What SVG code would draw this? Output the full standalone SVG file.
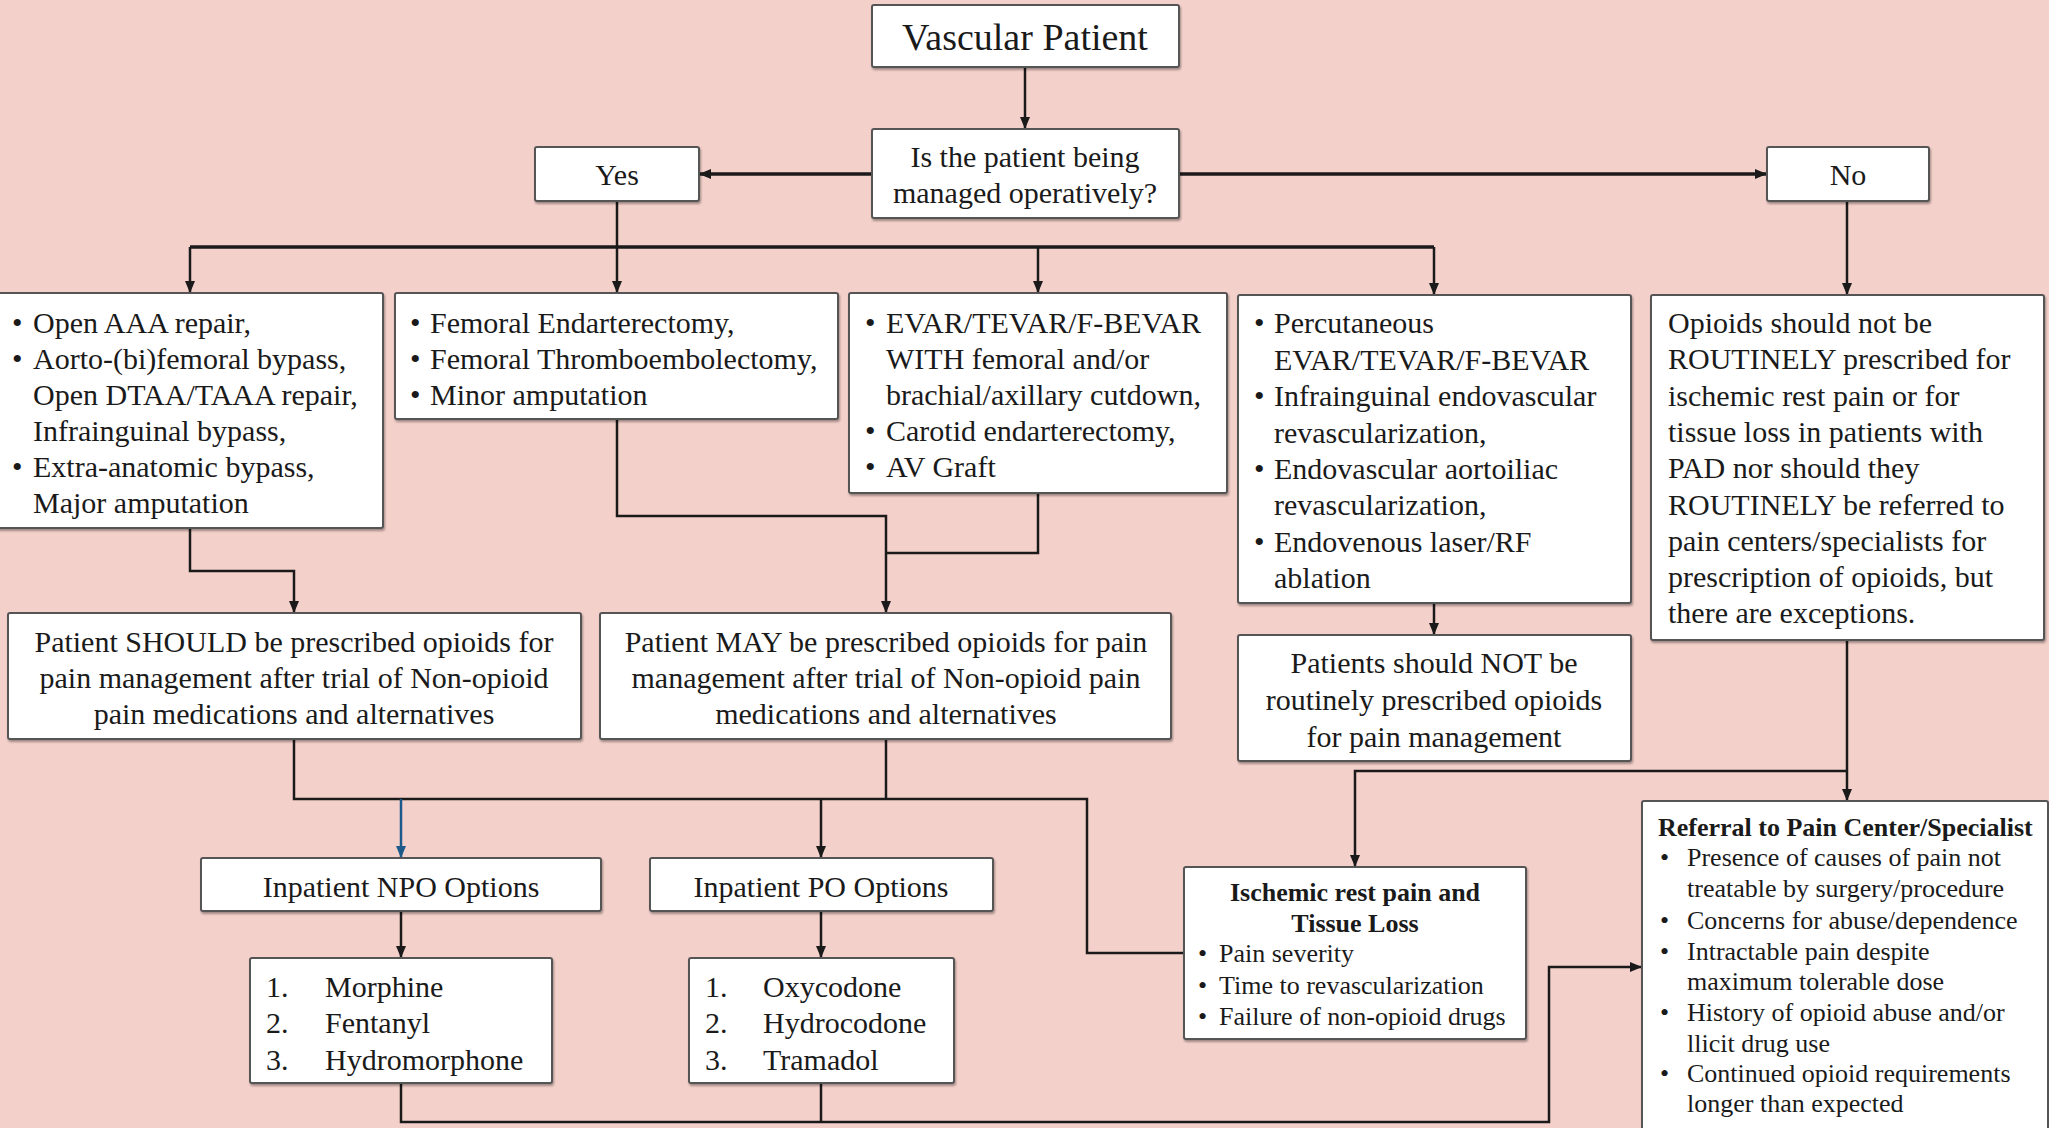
<svg xmlns="http://www.w3.org/2000/svg" width="2049" height="1128" viewBox="0 0 2049 1128">
  <defs>
    <marker id="arr" markerUnits="userSpaceOnUse" markerWidth="12" markerHeight="10" refX="12" refY="5" orient="auto">
      <path d="M0,0 L12,5 L0,10 Z" fill="#1a1a1a"/>
    </marker>
    <marker id="arrBlue" markerUnits="userSpaceOnUse" markerWidth="12" markerHeight="10" refX="12" refY="5" orient="auto">
      <path d="M0,0 L12,5 L0,10 Z" fill="#1d5a8c"/>
    </marker>
    <filter id="shadow" x="-5%" y="-5%" width="110%" height="115%">
      <feDropShadow dx="1" dy="2" stdDeviation="1" flood-color="#000" flood-opacity="0.35"/>
    </filter>
  </defs>
  <style>
    .box { fill: #ffffff; stroke: #555555; stroke-width: 2; filter: url(#shadow); }
    .t { font-family: "Liberation Serif", "Times New Roman", serif; font-size: 30px; fill: #1a1a1a; }
    .c { text-anchor: middle; }
    .s { font-size: 26px; }
    .b { font-weight: bold; }
    .big { font-size: 38px; }
    .ln { fill: none; stroke: #1a1a1a; stroke-width: 2.5; }
    .thick { stroke-width: 3.5; }
    .blue { stroke: #1d5a8c; }
  </style>

  <rect x="0" y="0" width="2049" height="1128" fill="#f4d0ca"/>

  <!-- connectors -->
  <g id="connectors">
    <path class="ln" d="M1025 67 V129" marker-end="url(#arr)"/>
    <path class="ln thick" d="M872 174 H699" marker-end="url(#arr)"/>
    <path class="ln thick" d="M1179 174 H1767" marker-end="url(#arr)"/>
    <path class="ln" d="M617 201 V293" marker-end="url(#arr)"/>
    <path class="ln thick" d="M190 247 H1434"/>
    <path class="ln" d="M190 247 V293" marker-end="url(#arr)"/>
    <path class="ln" d="M1038 247 V293" marker-end="url(#arr)"/>
    <path class="ln" d="M1434 247 V295" marker-end="url(#arr)"/>
    <path class="ln" d="M1847 201 V295" marker-end="url(#arr)"/>
    <path class="ln" d="M190 528 V571 H294 V613" marker-end="url(#arr)"/>
    <path class="ln" d="M617 419 V516 H886 V613" marker-end="url(#arr)"/>
    <path class="ln" d="M1038 493 V553 H886"/>
    <path class="ln" d="M1434 603 V635" marker-end="url(#arr)"/>
    <path class="ln" d="M294 739 V799 H1087 V953 H1184"/>
    <path class="ln" d="M886 739 V799"/>
    <path class="ln blue" d="M401 799 V858" marker-end="url(#arrBlue)"/>
    <path class="ln" d="M821 799 V858" marker-end="url(#arr)"/>
    <path class="ln" d="M401 911 V958" marker-end="url(#arr)"/>
    <path class="ln" d="M821 911 V958" marker-end="url(#arr)"/>
    <path class="ln" d="M401 1083 V1122 H1549 V967 H1642" marker-end="url(#arr)"/>
    <path class="ln" d="M821 1083 V1122"/>
    <path class="ln" d="M1847 640 V801" marker-end="url(#arr)"/>
    <path class="ln" d="M1847 771 H1355 V867" marker-end="url(#arr)"/>
  </g>

  <g id="vascular-patient">
    <rect class="box" x="872" y="5" width="307" height="62" rx="2"/>
    <text class="t big c" x="1025" y="50">Vascular Patient</text>
  </g>

  <g id="question">
    <rect class="box" x="872" y="129" width="307" height="89" rx="2"/>
    <text class="t c" x="1025" y="167">Is the patient being</text>
    <text class="t c" x="1025" y="203">managed operatively?</text>
  </g>

  <g id="yes">
    <rect class="box" x="535" y="147" width="164" height="54" rx="2"/>
    <text class="t c" x="617" y="185">Yes</text>
  </g>

  <g id="no">
    <rect class="box" x="1767" y="147" width="162" height="54" rx="2"/>
    <text class="t c" x="1848" y="185">No</text>
  </g>

  <g id="open-procedures">
    <rect class="box" x="-4" y="293" width="387" height="235" rx="2"/>
    <text class="t" x="12" y="333">•</text><text class="t" x="33" y="333">Open AAA repair,</text>
    <text class="t" x="12" y="369">•</text><text class="t" x="33" y="369">Aorto-(bi)femoral bypass,</text>
    <text class="t" x="33" y="405">Open DTAA/TAAA repair,</text>
    <text class="t" x="33" y="441">Infrainguinal bypass,</text>
    <text class="t" x="12" y="477">•</text><text class="t" x="33" y="477">Extra-anatomic bypass,</text>
    <text class="t" x="33" y="513">Major amputation</text>
  </g>

  <g id="femoral-procedures">
    <rect class="box" x="395" y="293" width="443" height="126" rx="2"/>
    <text class="t" x="410" y="333">•</text><text class="t" x="430" y="333">Femoral Endarterectomy,</text>
    <text class="t" x="410" y="369">•</text><text class="t" x="430" y="369">Femoral Thromboembolectomy,</text>
    <text class="t" x="410" y="405">•</text><text class="t" x="430" y="405">Minor amputation</text>
  </g>

  <g id="cutdown-procedures">
    <rect class="box" x="849" y="293" width="378" height="200" rx="2"/>
    <text class="t" x="865" y="333">•</text><text class="t" x="886" y="333">EVAR/TEVAR/F-BEVAR</text>
    <text class="t" x="886" y="369">WITH femoral and/or</text>
    <text class="t" x="886" y="405">brachial/axillary cutdown,</text>
    <text class="t" x="865" y="441">•</text><text class="t" x="886" y="441">Carotid endarterectomy,</text>
    <text class="t" x="865" y="477">•</text><text class="t" x="886" y="477">AV Graft</text>
  </g>

  <g id="endovascular-procedures">
    <rect class="box" x="1238" y="295" width="393" height="308" rx="2"/>
    <text class="t" x="1254" y="333">•</text><text class="t" x="1274" y="333">Percutaneous</text>
    <text class="t" x="1274" y="370">EVAR/TEVAR/F-BEVAR</text>
    <text class="t" x="1254" y="406">•</text><text class="t" x="1274" y="406">Infrainguinal endovascular</text>
    <text class="t" x="1274" y="443">revascularization,</text>
    <text class="t" x="1254" y="479">•</text><text class="t" x="1274" y="479">Endovascular aortoiliac</text>
    <text class="t" x="1274" y="515">revascularization,</text>
    <text class="t" x="1254" y="552">•</text><text class="t" x="1274" y="552">Endovenous laser/RF</text>
    <text class="t" x="1274" y="588">ablation</text>
  </g>

  <g id="non-operative">
    <rect class="box" x="1651" y="295" width="393" height="345" rx="2"/>
    <text class="t" x="1668" y="333">Opioids should not be</text>
    <text class="t" x="1668" y="369">ROUTINELY prescribed for</text>
    <text class="t" x="1668" y="406">ischemic rest pain or for</text>
    <text class="t" x="1668" y="442">tissue loss in patients with</text>
    <text class="t" x="1668" y="478">PAD nor should they</text>
    <text class="t" x="1668" y="515">ROUTINELY be referred to</text>
    <text class="t" x="1668" y="551">pain centers/specialists for</text>
    <text class="t" x="1668" y="587">prescription of opioids, but</text>
    <text class="t" x="1668" y="623">there are exceptions.</text>
  </g>

  <g id="should-prescribe">
    <rect class="box" x="8" y="613" width="573" height="126" rx="2"/>
    <text class="t c" x="294" y="652">Patient SHOULD be prescribed opioids for</text>
    <text class="t c" x="294" y="688">pain management after trial of Non-opioid</text>
    <text class="t c" x="294" y="724">pain medications and alternatives</text>
  </g>

  <g id="may-prescribe">
    <rect class="box" x="600" y="613" width="571" height="126" rx="2"/>
    <text class="t c" x="886" y="652">Patient MAY be prescribed opioids for pain</text>
    <text class="t c" x="886" y="688">management after trial of Non-opioid pain</text>
    <text class="t c" x="886" y="724">medications and alternatives</text>
  </g>

  <g id="not-prescribe">
    <rect class="box" x="1238" y="635" width="393" height="126" rx="2"/>
    <text class="t c" x="1434" y="673">Patients should NOT be</text>
    <text class="t c" x="1434" y="710">routinely prescribed opioids</text>
    <text class="t c" x="1434" y="747">for pain management</text>
  </g>

  <g id="inpatient-npo">
    <rect class="box" x="201" y="858" width="400" height="53" rx="2"/>
    <text class="t c" x="401" y="897">Inpatient NPO Options</text>
  </g>

  <g id="inpatient-po">
    <rect class="box" x="650" y="858" width="343" height="53" rx="2"/>
    <text class="t c" x="821" y="897">Inpatient PO Options</text>
  </g>

  <g id="npo-drugs">
    <rect class="box" x="250" y="958" width="302" height="125" rx="2"/>
    <text class="t" x="266" y="997">1.</text><text class="t" x="325" y="997">Morphine</text>
    <text class="t" x="266" y="1033">2.</text><text class="t" x="325" y="1033">Fentanyl</text>
    <text class="t" x="266" y="1070">3.</text><text class="t" x="325" y="1070">Hydromorphone</text>
  </g>

  <g id="po-drugs">
    <rect class="box" x="689" y="958" width="265" height="125" rx="2"/>
    <text class="t" x="705" y="997">1.</text><text class="t" x="763" y="997">Oxycodone</text>
    <text class="t" x="705" y="1033">2.</text><text class="t" x="763" y="1033">Hydrocodone</text>
    <text class="t" x="705" y="1070">3.</text><text class="t" x="763" y="1070">Tramadol</text>
  </g>

  <g id="ischemic-rest-pain">
    <rect class="box" x="1184" y="867" width="342" height="172" rx="2"/>
    <text class="t s b c" x="1355" y="901">Ischemic rest pain and</text>
    <text class="t s b c" x="1355" y="932">Tissue Loss</text>
    <text class="t s" x="1198" y="962">•</text><text class="t s" x="1219" y="962">Pain severity</text>
    <text class="t s" x="1198" y="994">•</text><text class="t s" x="1219" y="994">Time to revascularization</text>
    <text class="t s" x="1198" y="1025">•</text><text class="t s" x="1219" y="1025">Failure of non-opioid drugs</text>
  </g>

  <g id="pain-referral">
    <rect class="box" x="1642" y="801" width="406" height="340" rx="2"/>
    <text class="t s b" x="1658" y="836">Referral to Pain Center/Specialist</text>
    <text class="t s" x="1660" y="866">•</text><text class="t s" x="1687" y="866">Presence of causes of pain not</text>
    <text class="t s" x="1687" y="897">treatable by surgery/procedure</text>
    <text class="t s" x="1660" y="929">•</text><text class="t s" x="1687" y="929">Concerns for abuse/dependence</text>
    <text class="t s" x="1660" y="960">•</text><text class="t s" x="1687" y="960">Intractable pain despite</text>
    <text class="t s" x="1687" y="990">maximum tolerable dose</text>
    <text class="t s" x="1660" y="1021">•</text><text class="t s" x="1687" y="1021">History of opioid abuse and/or</text>
    <text class="t s" x="1687" y="1052">llicit drug use</text>
    <text class="t s" x="1660" y="1082">•</text><text class="t s" x="1687" y="1082">Continued opioid requirements</text>
    <text class="t s" x="1687" y="1112">longer than expected</text>
  </g>
</svg>
